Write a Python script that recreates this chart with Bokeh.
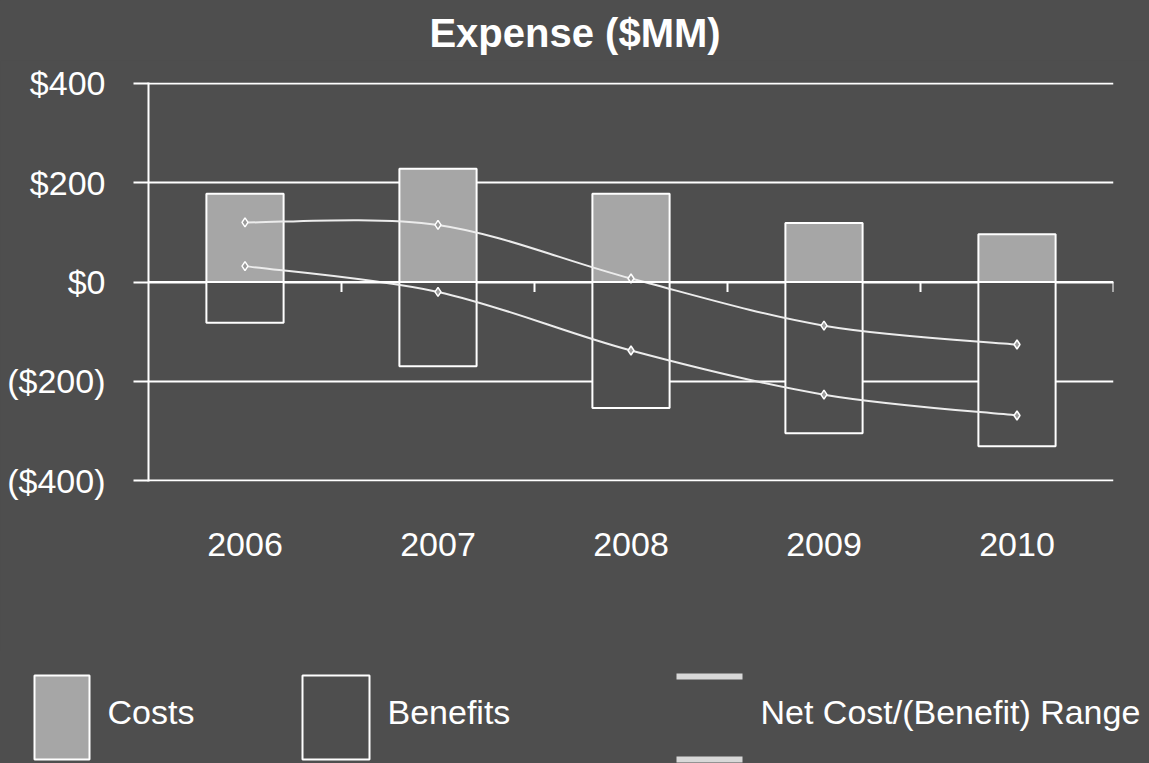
import numpy as np
from bokeh.plotting import figure
from bokeh.models import FactorRange, Range1d, Span, FixedTicker
from bokeh.core.properties import value
from bokeh.embed import file_html
from bokeh.resources import INLINE

# ---------------- data ----------------
years = ["2006", "2007", "2008", "2009", "2010"]
costs = [178, 228, 178, 119, 96]
benefits = [-82, -170, -254, -305, -331]
net_high = [120, 115, 7, -88, -126]
net_low = [32, -20, -138, -227, -269]
y_ticks = [400, 200, 0, -200, -400]
y_tick_labels = ["$400", "$200", "$0", "($200)", "($400)"]
legend_labels = ["Costs", "Benefits", "Net Cost/(Benefit) Range"]
title_text = "Expense ($MM)"

# ---------------- style ----------------
BG = "#4e4e4e"
COST_FILL = "#a6a6a6"
WHITE = "#ffffff"
LINE_C = "#ececec"
FONT = "Liberation Sans"
FS = "34px"
W = 1149


def strip(h):
    f = figure(width=W, height=h, x_range=Range1d(0, W), y_range=Range1d(h, 0),
               output_backend="svg", toolbar_location=None, min_border=0, title=None)
    f.background_fill_color = BG
    f.border_fill_color = BG
    f.outline_line_color = None
    f.axis.visible = False
    f.grid.visible = False
    return f


# ---------------- title strip ----------------
tt = strip(60)
tt.text(x=[W / 2], y=[32], text=[title_text], text_color=WHITE,
        text_font=value(FONT), text_font_size="40px", text_font_style="bold",
        text_align="center", text_baseline="middle")

# ---------------- main chart ----------------
p = figure(width=W, height=590, x_range=FactorRange(*years, range_padding=0),
           y_range=Range1d(-402, 402), output_backend="svg", toolbar_location=None,
           min_border_left=148, min_border_right=36, min_border_top=22,
           min_border_bottom=169, title=None)
p.background_fill_color = BG
p.border_fill_color = BG
p.outline_line_color = None

# y axis
p.yaxis.ticker = FixedTicker(ticks=y_ticks)
p.yaxis.major_label_overrides = {t: l for t, l in zip(y_ticks, y_tick_labels)}
p.yaxis.major_label_text_color = WHITE
p.yaxis.major_label_text_font = FONT
p.yaxis.major_label_text_font_size = FS
p.yaxis.major_label_standoff = 28
p.yaxis.axis_line_color = WHITE
p.yaxis.axis_line_width = 2
p.yaxis.major_tick_line_color = WHITE
p.yaxis.major_tick_line_width = 2
p.yaxis.major_tick_out = 15
p.yaxis.major_tick_in = 0
p.yaxis.minor_tick_line_color = None

p.ygrid.ticker = FixedTicker(ticks=y_ticks)
p.ygrid.grid_line_color = WHITE
p.ygrid.grid_line_width = 2
p.xgrid.grid_line_color = None

# x axis: labels only
p.xaxis.axis_line_color = None
p.xaxis.major_tick_line_color = None
p.xaxis.minor_tick_line_color = None
p.xaxis.major_label_text_color = WHITE
p.xaxis.major_label_text_font = FONT
p.xaxis.major_label_text_font_size = FS
p.xaxis.major_label_standoff = 45

# bars
p.vbar(x=years, bottom=0, top=costs, width=0.4, fill_color=COST_FILL,
       line_color=WHITE, line_width=2)
p.vbar(x=years, bottom=benefits, top=0, width=0.4, fill_color=BG,
       line_color=WHITE, line_width=2)

# zero line and category ticks
p.add_layout(Span(location=0, dimension="width", line_color=WHITE, line_width=2))
bounds = np.arange(1, len(years) + 1)
p.segment(x0=bounds, y0=0, x1=bounds, y1=-20, line_color=WHITE, line_width=2)

# smooth curves (Catmull-Rom -> cubic bezier) through the net range points
xs = np.arange(len(years)) + 0.5
for ys in (net_high, net_low):
    ys = np.asarray(ys, dtype=float)
    px = np.concatenate([[xs[0]], xs, [xs[-1]]])
    py = np.concatenate([[ys[0]], ys, [ys[-1]]])
    n = len(xs) - 1
    x0 = xs[:-1]; x1 = xs[1:]; y0 = ys[:-1]; y1 = ys[1:]
    cx0 = x0 + (px[2:n + 2] - px[0:n]) / 6
    cy0 = y0 + (py[2:n + 2] - py[0:n]) / 6
    cx1 = x1 - (px[3:n + 3] - px[1:n + 1]) / 6
    cy1 = y1 - (py[3:n + 3] - py[1:n + 1]) / 6
    p.bezier(x0=x0, y0=y0, x1=x1, y1=y1, cx0=cx0, cy0=cy0, cx1=cx1, cy1=cy1,
             line_color=LINE_C, line_width=2)
    p.scatter(x=years, y=list(ys), marker="diamond", size=9, fill_color="#9a9a9a",
              line_color=WHITE, line_width=1.5)

# ---------------- legend strip ----------------
lg = strip(113)
lg.quad(left=[34], right=[89], top=[25], bottom=[109], fill_color=COST_FILL,
        line_color=WHITE, line_width=2)
lg.quad(left=[302], right=[369], top=[25], bottom=[109], fill_color=BG,
        line_color=WHITE, line_width=2)
lg.segment(x0=[676, 676], y0=[26, 109], x1=[742, 742], y1=[26, 109],
           line_color="#d8d8d8", line_width=6)
lg.text(x=[107, 387, 760], y=[61, 61, 61], text=legend_labels,
        text_color=WHITE, text_font=value(FONT), text_font_size=FS,
        text_baseline="middle", text_align="left")

html = file_html([tt, p, lg], INLINE)
html = html.replace("</head>",
                    "<style>html,body{margin:0;padding:0;background:%s;}</style></head>" % BG, 1)
open("out.html", "w").write(html)
